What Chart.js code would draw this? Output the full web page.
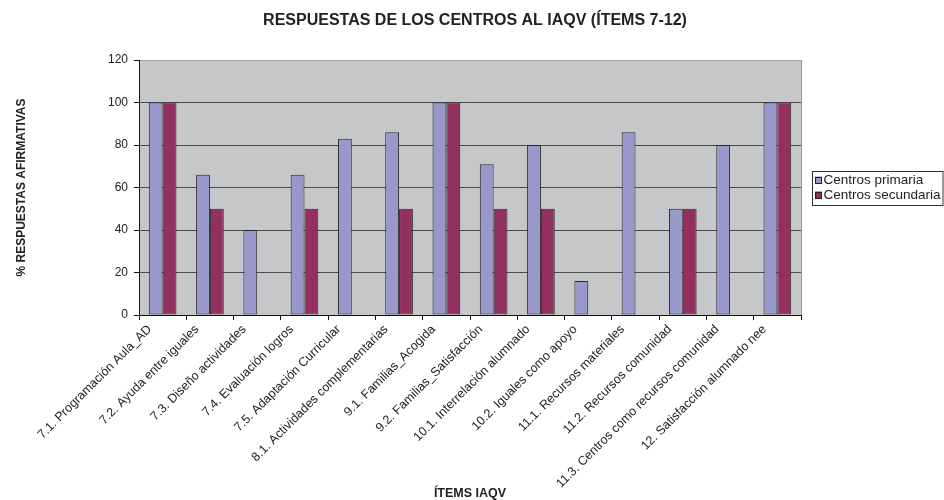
<!DOCTYPE html>
<html>
<head>
<meta charset="utf-8">
<script src="https://cdn.jsdelivr.net/npm/chart.js@4/dist/chart.umd.min.js"></script>
<style>
  body { margin: 0; background: #fff; }
  #grafico { display: block; }
</style>
</head>
<body>
<canvas id="grafico" width="944" height="500"></canvas>
<script>
// Datos del gráfico
const categorias = [
  "7.1. Programación Aula_AD",
  "7.2. Ayuda entre iguales",
  "7.3. Diseño actividades",
  "7.4. Evaluación logros",
  "7.5. Adaptación Curricular",
  "8.1. Actividades complementarias",
  "9.1. Familias_Acogida",
  "9.2. Familias_Satisfacción",
  "10.1. Interrelación alumnado",
  "10.2. Iguales como apoyo",
  "11.1. Recursos materiales",
  "11.2. Recursos comunidad",
  "11.3. Centros como recursos comunidad",
  "12. Satisfacción alumnado nee"
];
const primaria = [100, 66, 40, 66, 83, 86, 100, 71, 80, 16, 86, 50, 80, 100];
const secundaria = [100, 50, 0, 50, 0, 50, 100, 50, 50, 0, 0, 50, 0, 100];
const series = ["Centros primaria", "Centros secundaria"];
const ticksY = [0, 20, 40, 60, 80, 100, 120];

const fuente = "'Liberation Sans', Arial, sans-serif";
const colorTexto = "#222";

// Fondo gris del área de trazado y borde derecho
const fondoPlot = {
  id: "fondoPlot",
  beforeDraw(chart) {
    const { ctx, chartArea: a } = chart;
    ctx.save();
    ctx.fillStyle = "#c6c7c9";
    ctx.fillRect(a.left, a.top, a.right - a.left, a.bottom - a.top);
    ctx.restore();
  },
  afterDatasetsDraw(chart) {
    const { ctx, chartArea: a } = chart;
    ctx.save();
    ctx.strokeStyle = "#9a9a9a";
    ctx.lineWidth = 1;
    ctx.beginPath();
    ctx.moveTo(a.right + 0.5, a.top);
    ctx.lineTo(a.right + 0.5, a.bottom);
    ctx.stroke();
    ctx.restore();
  }
};

// Leyenda con recuadro, a la derecha del gráfico
const leyenda = {
  id: "leyenda",
  afterDraw(chart) {
    const { ctx, chartArea: a } = chart;
    const cy = (a.top + a.bottom) / 2;
    const x0 = Math.round(a.right) + 11;
    ctx.save();
    ctx.strokeStyle = "#333";
    ctx.lineWidth = 1;
    ctx.strokeRect(x0 + 0.5, Math.round(cy - 17) + 0.5, 943 - x0 - 0.5, 34);
    ctx.font = "13.5px " + fuente;
    ctx.textBaseline = "middle";
    chart.data.datasets.forEach((ds, i) => {
      const y = cy - 7.5 + i * 15;
      ctx.fillStyle = ds.backgroundColor;
      ctx.fillRect(x0 + 3, y - 3.5, 7, 7);
      ctx.strokeStyle = "#222";
      ctx.strokeRect(x0 + 3.5, Math.round(y - 3.5) + 0.5, 6, 6);
      ctx.fillStyle = colorTexto;
      ctx.fillText(ds.label, x0 + 11.5, y + 0.5);
    });
    ctx.restore();
  }
};

new Chart(document.getElementById("grafico"), {
  type: "bar",
  data: {
    labels: categorias,
    datasets: [
      {
        label: series[0],
        data: primaria,
        backgroundColor: "#9898cb",
        borderColor: "#2a2a2a",
        borderWidth: 1,
        borderSkipped: false
      },
      {
        label: series[1],
        data: secundaria,
        backgroundColor: "#94305f",
        borderColor: "#2a2a2a",
        borderWidth: 1,
        borderSkipped: false
      }
    ]
  },
  options: {
    responsive: false,
    devicePixelRatio: 1,
    animation: false,
    layout: { padding: { left: 6, right: 0, top: 0, bottom: 0 } },
    datasets: {
      bar: { categoryPercentage: 0.585, barPercentage: 1.0 }
    },
    plugins: {
      legend: { display: false },
      tooltip: { enabled: false },
      title: {
        display: true,
        text: "RESPUESTAS DE LOS CENTROS AL IAQV (ÍTEMS 7-12)",
        color: colorTexto,
        font: { family: fuente, size: 16, weight: "bold" },
        padding: { top: 11, bottom: 29.8 }
      }
    },
    scales: {
      x: {
        afterFit(scale) { scale.height = 185; },
        grid: {
          display: true,
          drawOnChartArea: false,
          drawTicks: true,
          tickLength: 5,
          tickColor: "#111",
          offset: true
        },
        border: { display: true, color: "#111", width: 1 },
        ticks: {
          autoSkip: false,
          minRotation: 45,
          maxRotation: 45,
          labelOffset: -13,
          padding: 2,
          color: colorTexto,
          font: { family: fuente, size: 12.5 }
        },
        title: {
          display: true,
          text: "ÍTEMS IAQV",
          color: colorTexto,
          font: { family: fuente, size: 12.5, weight: "bold", lineHeight: 1 },
          padding: { top: 0, bottom: 0 }
        }
      },
      y: {
        min: 0,
        max: 120,
        afterFit(scale) { scale.width = 133; },
        afterBuildTicks(scale) {
          scale.ticks = ticksY.map(v => ({ value: v }));
        },
        grid: {
          color: ctx => (ctx.tick && ctx.tick.value === 120 ? "#a0a0a0" : "#4a4a4a"),
          tickColor: "#111",
          tickLength: 5,
          drawTicks: true
        },
        border: { display: true, color: "#111", width: 1 },
        ticks: {
          padding: 6,
          color: colorTexto,
          font: { family: fuente, size: 12 }
        },
        title: {
          display: true,
          text: "% RESPUESTAS AFIRMATIVAS",
          color: colorTexto,
          font: { family: fuente, size: 12, weight: "bold" },
          padding: { top: 8, bottom: 0 }
        }
      },
      // eje vacío a la derecha: deja sitio para la leyenda
      hueco: {
        type: "linear",
        position: "right",
        display: true,
        afterFit(scale) { scale.width = 143; },
        grid: { drawOnChartArea: false, drawTicks: false },
        border: { display: false },
        ticks: { display: false }
      }
    }
  },
  plugins: [fondoPlot, leyenda]
});
</script>
</body>
</html>
